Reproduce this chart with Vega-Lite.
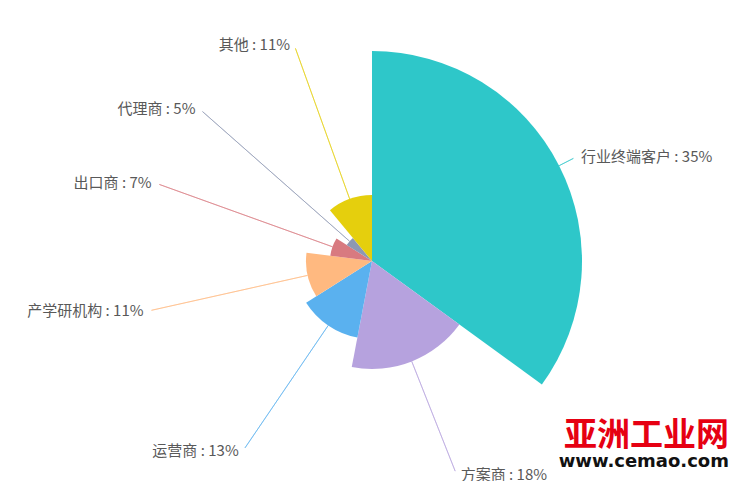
{
  "$schema": "https://vega.github.io/schema/vega-lite/v6.json",
  "width": 738,
  "height": 440,
  "autosize": "none",
  "padding": {"left": 3, "top": 41, "right": 0, "bottom": 0},
  "background": "white",
  "title": {
    "text": "亚洲工业网",
    "subtitle": "www.cemao.com",
    "orient": "bottom",
    "anchor": "end",
    "frame": "group",
    "offset": -63,
    "dx": -12,
    "font": "Noto Sans CJK SC",
    "fontSize": 33,
    "fontWeight": "bold",
    "color": "#e60012",
    "subtitleFont": "DejaVu Sans",
    "subtitleFontSize": 18,
    "subtitleFontWeight": "bold",
    "subtitleColor": "#111111",
    "subtitlePadding": 0
  },
  "data": {
    "values": [
      {"name": "行业终端客户", "value": 35, "order": 1},
      {"name": "方案商", "value": 18, "order": 2},
      {"name": "运营商", "value": 13, "order": 3},
      {"name": "产学研机构", "value": 11, "order": 4},
      {"name": "出口商", "value": 7, "order": 5},
      {"name": "代理商", "value": 5, "order": 6},
      {"name": "其他", "value": 11, "order": 7}
    ]
  },
  "transform": [
    {"stack": "value", "groupby": [], "sort": [{"field": "order", "order": "ascending"}], "as": ["v0", "v1"]},
    {"calculate": "(datum.v0 + datum.v1) / 2", "as": "mid"},
    {"calculate": "datum.name + ' : ' + datum.value + '%'", "as": "label"}
  ],
  "encoding": {
    "color": {
      "field": "name",
      "type": "nominal",
      "legend": null,
      "scale": {
        "domain": ["行业终端客户", "方案商", "运营商", "产学研机构", "出口商", "代理商", "其他"],
        "range": ["#2ec7c9", "#b6a2de", "#5ab1ef", "#ffb980", "#d87a80", "#8d98b3", "#e5cf0d"]
      }
    }
  },
  "layer": [
    {
      "mark": {"type": "arc"},
      "encoding": {
        "theta": {"field": "v0", "type": "quantitative", "scale": {"domain": [0, 100]}},
        "theta2": {"field": "v1"},
        "radius": {"field": "value", "type": "quantitative", "scale": {"type": "linear", "domain": [0, 35], "range": [0, 210], "zero": true}}
      }
    },
    {
      "mark": {"type": "arc", "filled": false, "strokeWidth": 1, "strokeOpacity": 0.6},
      "encoding": {
        "theta": {"field": "mid", "type": "quantitative", "scale": {"domain": [0, 100]}},
        "theta2": {"field": "mid"},
        "radius": {"field": "value", "type": "quantitative", "scale": {"type": "linear", "domain": [0, 35], "range": [0, 210], "zero": true}},
        "radius2": {"value": 226}
      }
    },
    {
      "transform": [{"filter": "datum.mid <= 50"}],
      "mark": {"type": "text", "align": "left", "baseline": "middle", "font": "Noto Sans CJK SC", "fontSize": 15, "dx": 4},
      "encoding": {
        "theta": {"field": "mid", "type": "quantitative", "scale": {"domain": [0, 100]}},
        "radius": {"value": 230},
        "text": {"field": "label"},
        "color": {"value": "#595959"}
      }
    },
    {
      "transform": [{"filter": "datum.mid > 50"}],
      "mark": {"type": "text", "align": "right", "baseline": "middle", "font": "Noto Sans CJK SC", "fontSize": 15, "dx": -4},
      "encoding": {
        "theta": {"field": "mid", "type": "quantitative", "scale": {"domain": [0, 100]}},
        "radius": {"value": 230},
        "text": {"field": "label"},
        "color": {"value": "#595959"}
      }
    }
  ]
}
